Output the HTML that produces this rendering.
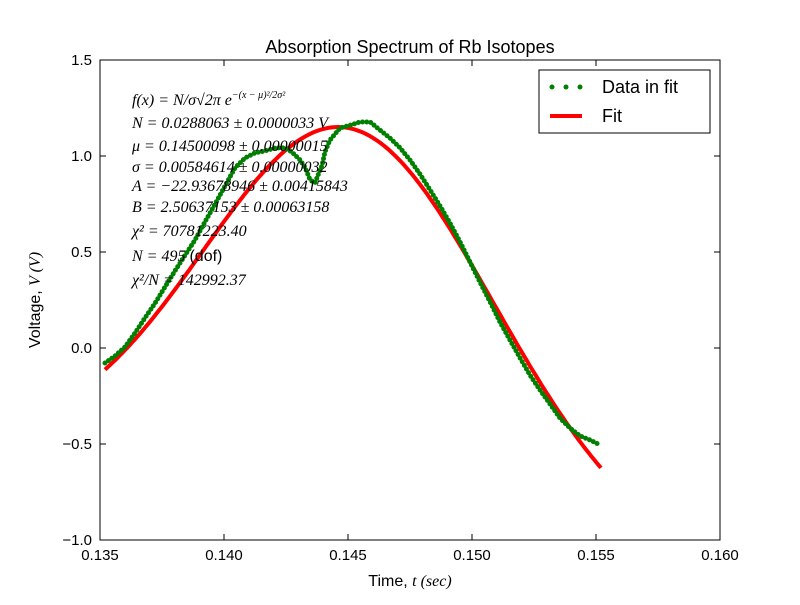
<!DOCTYPE html>
<html><head><meta charset="utf-8"><style>
body{margin:0;background:#fff}
svg text{font-family:"Liberation Sans",sans-serif}
.m{font-family:"Liberation Serif",serif;font-size:16px}
</style></head><body>
<svg width="800" height="600" xmlns="http://www.w3.org/2000/svg">
<rect width="800" height="600" fill="#fff"/>
<g id="plot"></g>
<text x="410" y="53" text-anchor="middle" font-size="18">Absorption Spectrum of Rb Isotopes</text>
<text x="410" y="586" text-anchor="middle" font-size="16">Time, <tspan font-family="Liberation Serif" font-style="italic">t (sec)</tspan></text>
<text transform="translate(40,300) rotate(-90)" text-anchor="middle" font-size="16">Voltage, <tspan font-family="Liberation Serif" font-style="italic">V (V)</tspan></text>
<g font-style="italic">
<text class="m" x="132" y="105"><tspan font-style="italic">f(x)</tspan> = N/σ√2π e<tspan font-size="10" dy="-7">−(x − μ)²/2σ²</tspan></text>
<text class="m" x="132" y="128">N = 0.0288063 ± 0.0000033 V</text>
<text class="m" x="132" y="151">μ = 0.14500098 ± 0.00000015</text>
<text class="m" x="132" y="172">σ = 0.00584614 ± 0.00000032</text>
<text class="m" x="132" y="191">A = −22.93678946 ± 0.00415843</text>
<text class="m" x="132" y="212">B = 2.50637153 ± 0.00063158</text>
<text class="m" x="132" y="236">χ² = 70781223.40</text>
<text class="m" x="132" y="261">N = 495 <tspan font-family="Liberation Sans" font-style="normal">(dof)</tspan></text>
<text class="m" x="132" y="285">χ²/N = 142992.37</text>
</g>
<g>
<rect x="539" y="70" width="171" height="63" fill="#fff" stroke="#000"/>
<circle cx="552" cy="87" r="2.5" fill="green"/><circle cx="566" cy="87" r="2.5" fill="green"/><circle cx="580" cy="87" r="2.5" fill="green"/>
<text x="602" y="93" font-size="18">Data in fit</text>
<line x1="550" y1="116" x2="582" y2="116" stroke="red" stroke-width="4"/>
<text x="602" y="122" font-size="18">Fit</text>
</g>
</svg>
<script>
const xData=[.13520,.13560,.13601,.13641,.13681,.13722,.13762,.13802,.13843,.13883,.13923,.13964,.14004,.14044,.14085,.14125,.14165,.14206,.14246,.14274,.14306,.14327,.14347,.14367,.14379,.14395,.14407,.14427,.14468,.14508,.14548,.14589,.14629,.14669,.14710,.14750,.14790,.14831,.14871,.14911,.14952,.14992,.15032,.15073,.15113,.15153,.15194,.15234,.15274,.15315,.15355,.15395,.15435,.15476,.15508];
const yData=[-0.078,-0.042,0.005,0.078,0.156,0.234,0.318,0.401,0.484,0.5625,0.656,0.75,0.844,0.9375,0.99,1.016,1.026,1.042,1.042,1.02,0.98,0.94,0.875,0.86,0.90,0.95,1.02,1.083,1.146,1.16,1.177,1.177,1.135,1.094,1.042,0.979,0.906,0.823,0.74,0.651,0.552,0.448,0.344,0.24,0.135,0.042,-0.052,-0.141,-0.219,-0.292,-0.365,-0.417,-0.458,-0.479,-0.5];
const fitParams=[0.0288063,0.14500098,0.00584614,-22.93678946,2.50637153];
const fitRange=[0.1352,0.1552];
const xTicks=[0.135,0.140,0.145,0.150,0.155,0.160];
const yTicks=[-1.0,-0.5,0.0,0.5,1.0,1.5];
const X0=100,X1=720,Y0=540,Y1=60;
const sx=v=>X0+(v-0.135)/0.025*(X1-X0);
const sy=v=>Y0-(v+1)/2.5*(Y0-Y1);
const NS="http://www.w3.org/2000/svg";
const g=document.getElementById('plot');
function mk(t,a){const e=document.createElementNS(NS,t);for(const k in a)e.setAttribute(k,a[k]);g.appendChild(e);return e;}
const [N,mu,sg,A,B]=fitParams;
let fd='';
for(let i=0;i<=200;i++){const x=fitRange[0]+(fitRange[1]-fitRange[0])*i/200;
const y=N/(sg*Math.sqrt(2*Math.PI))*Math.exp(-((x-mu)**2)/(2*sg*sg))+A*x+B;
fd+=(i?'L':'M')+sx(x).toFixed(1)+','+sy(y).toFixed(1);}
const fp=mk('path',{d:fd,fill:'none',stroke:'red','stroke-width':4});


let d=xData.map((x,i)=>(i?'L':'M')+sx(x).toFixed(1)+','+sy(yData[i]).toFixed(1)).join('');
const dp=mk('path',{d:d,fill:'none',stroke:'green','stroke-width':5,'stroke-linecap':'round','stroke-dasharray':'0 4.2'});


const fr=mk('rect',{x:X0,y:Y1,width:X1-X0,height:Y0-Y1,fill:'none',stroke:'#000'});


xTicks.forEach(v=>{const p=sx(v);
mk('line',{x1:p,x2:p,y1:Y0,y2:Y0-6,stroke:'#000'});mk('line',{x1:p,x2:p,y1:Y1,y2:Y1+6,stroke:'#000'});
const t=mk('text',{x:p,y:Y0+20,'text-anchor':'middle','font-size':15});t.textContent=v.toFixed(3);

});
yTicks.forEach(v=>{const p=sy(v);
mk('line',{x1:X0,x2:X0+6,y1:p,y2:p,stroke:'#000'});mk('line',{x1:X1,x2:X1-6,y1:p,y2:p,stroke:'#000'});
const t=mk('text',{x:X0-8,y:p+5,'text-anchor':'end','font-size':15});t.textContent=(v<0?'\u2212':'')+Math.abs(v).toFixed(1);

});
</script>
</body></html>
